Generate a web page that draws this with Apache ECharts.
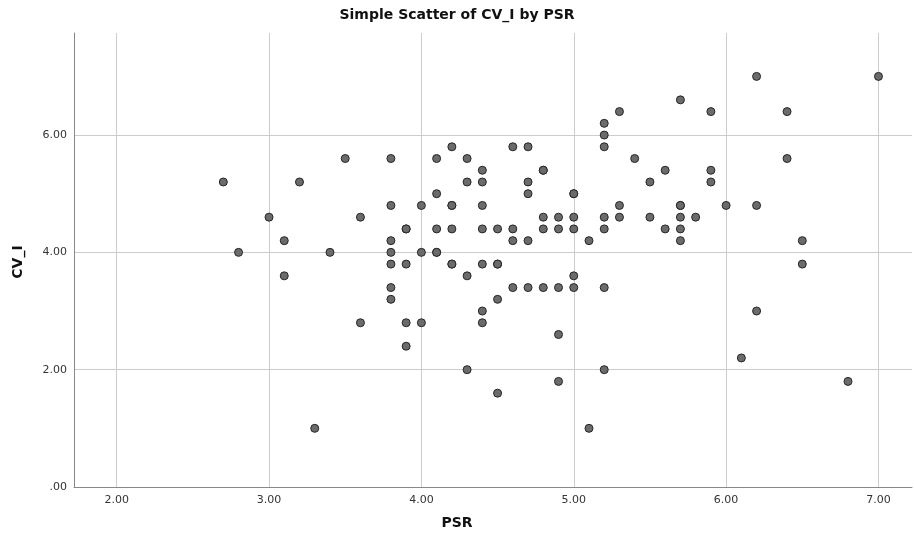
<!DOCTYPE html>
<html>
<head>
<meta charset="utf-8">
<script src="https://cdn.jsdelivr.net/npm/echarts@6/dist/echarts.min.js"></script>
<style>
  html, body { margin: 0; padding: 0; background: #fff; }
  #chart { width: 914px; height: 544px; }
</style>
</head>
<body>
<div id="chart"></div>
<script>
// PSR (x) and CV_I (y), one entry per case
var psr = [2.7, 2.8, 3.0, 3.1, 3.1, 3.2, 3.3, 3.4, 3.5, 3.6, 3.6,
	3.8, 3.8, 3.8, 3.8, 3.8, 3.8, 3.8,
	3.9, 3.9, 3.9, 3.9, 3.9,
	4.0, 4.0, 4.0,
	4.1, 4.1, 4.1, 4.1, 4.1,
	4.2, 4.2, 4.2, 4.2, 4.2, 4.2,
	4.3, 4.3, 4.3, 4.3,
	4.4, 4.4, 4.4, 4.4, 4.4, 4.4, 4.4,
	4.5, 4.5, 4.5, 4.5, 4.5,
	4.6, 4.6, 4.6, 4.6,
	4.7, 4.7, 4.7, 4.7, 4.7,
	4.8, 4.8, 4.8, 4.8, 4.8,
	4.9, 4.9, 4.9, 4.9, 4.9,
	5.0, 5.0, 5.0, 5.0, 5.0, 5.0,
	5.1, 5.1,
	5.2, 5.2, 5.2, 5.2, 5.2, 5.2, 5.2,
	5.3, 5.3, 5.3, 5.4, 5.5, 5.5, 5.6, 5.6,
	5.7, 5.7, 5.7, 5.7, 5.7, 5.7,
	5.8, 5.9, 5.9, 5.9, 6.0, 6.1, 6.2, 6.2, 6.2,
	6.4, 6.4, 6.5, 6.5, 6.8, 7.0];
var cvi = [5.2, 4.0, 4.6, 4.2, 3.6, 5.2, 1.0, 4.0, 5.6, 4.6, 2.8,
	5.6, 4.8, 4.2, 4.0, 3.8, 3.4, 3.2,
	4.4, 4.4, 3.8, 2.8, 2.4,
	4.8, 4.0, 2.8,
	5.6, 5.0, 4.4, 4.0, 4.0,
	5.8, 4.8, 4.8, 4.4, 3.8, 3.8,
	5.6, 5.2, 3.6, 2.0,
	5.4, 5.2, 4.8, 4.4, 3.8, 3.0, 2.8,
	4.4, 3.8, 3.8, 3.2, 1.6,
	5.8, 4.4, 4.2, 3.4,
	5.8, 5.2, 5.0, 4.2, 3.4,
	5.4, 5.4, 4.6, 4.4, 3.4,
	4.6, 4.4, 3.4, 2.6, 1.8,
	5.0, 5.0, 4.6, 4.4, 3.6, 3.4,
	4.2, 1.0,
	6.2, 6.0, 5.8, 4.6, 4.4, 3.4, 2.0,
	6.4, 4.8, 4.6, 5.6, 5.2, 4.6, 5.4, 4.4,
	6.6, 4.8, 4.8, 4.6, 4.4, 4.2,
	4.6, 6.4, 5.4, 5.2, 4.8, 2.2, 7.0, 4.8, 3.0,
	6.4, 5.6, 4.2, 3.8, 1.8, 7.0];
var xTicks = [2, 3, 4, 5, 6, 7];
var yTicks = [0, 2, 4, 6];

var points = psr.map(function (v, i) { return [v, cvi[i]]; });

function fmt(v) {
	var s = v.toFixed(2);
	return s.charAt(0) === '0' ? s.substring(1) : s;
}

var chart = echarts.init(document.getElementById('chart'));
var option = {
	animation: false,
	backgroundColor: '#fff',
	title: {
		text: 'Simple Scatter of CV_I by PSR',
		left: 'center',
		top: 3,
		textStyle: { fontFamily: 'DejaVu Sans', fontSize: 14, fontWeight: 'bold', color: '#111' }
	},
	grid: { left: 74, right: 2, top: 33, bottom: 57 },
	xAxis: {
		type: 'value',
		min: 1.72,
		max: 7.22,
		axisLine: { show: true, lineStyle: { color: '#888', width: 1 } },
		axisTick: { show: false, customValues: xTicks },
		axisLabel: { customValues: xTicks, formatter: fmt, margin: 8,
			fontFamily: 'DejaVu Sans', fontSize: 11, color: '#333' },
		splitLine: { show: true, lineStyle: { color: '#cccccc', width: 1 } }
	},
	yAxis: {
		type: 'value',
		min: 0,
		max: 7.74,
		axisLine: { show: true, lineStyle: { color: '#888', width: 1 } },
		axisTick: { show: false, customValues: yTicks },
		axisLabel: { customValues: yTicks, formatter: fmt, margin: 7,
			fontFamily: 'DejaVu Sans', fontSize: 11, color: '#333' },
		splitLine: { show: true, lineStyle: { color: '#cccccc', width: 1 } }
	},
	graphic: [
		{ type: 'text', left: 'center', top: 516,
			style: { text: 'PSR', font: 'bold 14px "DejaVu Sans"', fill: '#111' } },
		{ type: 'text', x: 18, y: 262, rotation: Math.PI / 2,
			style: { text: 'CV_I', font: 'bold 14px "DejaVu Sans"', fill: '#111',
				align: 'center', verticalAlign: 'middle' } }
	],
	series: [{
		type: 'scatter',
		data: points,
		symbol: 'circle',
		symbolSize: 8,
		itemStyle: { color: '#6b6b6b', borderColor: '#262626', borderWidth: 1, opacity: 1 }
	}]
};
chart.setOption(option);
</script>
</body>
</html>
